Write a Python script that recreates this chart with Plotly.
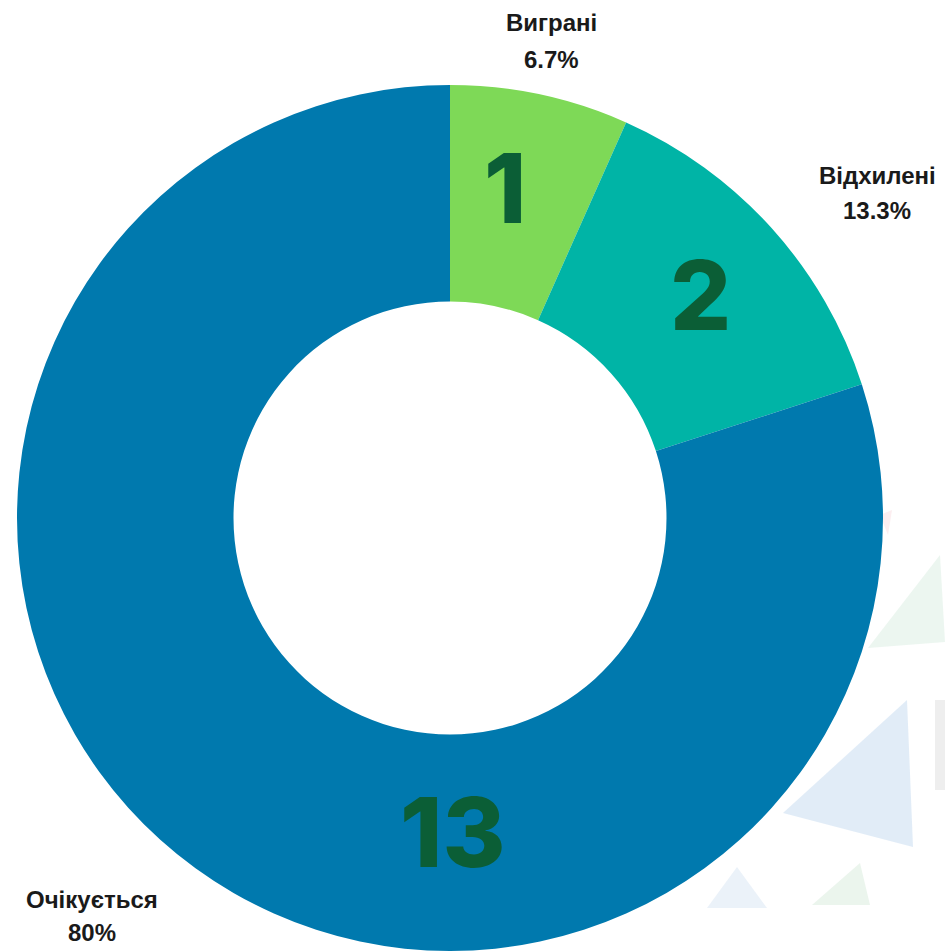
import plotly.graph_objects as go

labels = ["Виграні", "Відхилені", "Очікується"]
slice_values = [1, 2, 12]          # slice sizes (match the 6.7% / 13.3% / 80% shown)
shown_counts = ["1", "2", "13"]    # numbers printed inside the ring in the original
colors = ["#7ED957", "#00B4A6", "#0079AE"]
number_color = "#0B5E36"

W, H = 945, 951
total = sum(slice_values)
pcts = [v / total * 100 for v in slice_values]


def fmt(p):
    s = f"{p:.1f}"
    return s[:-2] if s.endswith(".0") else s


fig = go.Figure(go.Pie(
    labels=labels,
    values=slice_values,
    hole=0.5,
    sort=False,
    direction="clockwise",
    rotation=0,
    marker=dict(colors=colors, line=dict(width=0)),
    textinfo="none",
    showlegend=False,
    hoverinfo="label+value+percent",
    domain=dict(x=[15 / W, 885 / W], y=[0, 1 - 85 / H]),
))


def px(x, y):
    return x / W, 1 - y / H


annotations = []
# numbers inside the ring
num_pos = [(505, 188), (700, 295), (452, 832)]
for txt, (x, y) in zip(shown_counts, num_pos):
    ax, ay = px(x, y)
    annotations.append(dict(
        x=ax, y=ay, xref="paper", yref="paper", text=txt, showarrow=False,
        font=dict(family="Inter", size=96, color=number_color, weight=800),
        xanchor="center", yanchor="middle",
    ))

# outside labels (name + percent)
label_pos = [(551, 23, 59), (877, 176, 211), (92, 899, 932)]
for lab, p, (x, y1, y2) in zip(labels, pcts, label_pos):
    for txt, y in ((lab, y1), (fmt(p) + "%", y2)):
        ax, ay = px(x, y)
        annotations.append(dict(
            x=ax, y=ay, xref="paper", yref="paper",
            text=f"<b>{txt}</b>", showarrow=False,
            font=dict(family="Liberation Sans", size=24, color="#1a1a1a"),
            xanchor="center", yanchor="middle",
        ))

# faint decorative background triangles (watermark on the right)
decor = [
    ([(940, 555), (868, 648), (945, 642)], "rgba(150,205,170,0.18)"),
    ([(907, 700), (783, 813), (913, 847)], "rgba(200,220,240,0.55)"),
    ([(737, 867), (707, 908), (767, 908)], "rgba(205,222,240,0.4)"),
    ([(860, 863), (812, 905), (870, 905)], "rgba(205,230,210,0.4)"),
    ([(935, 700), (945, 700), (945, 790), (935, 790)], "rgba(200,200,200,0.3)"),
    ([(880, 515), (892, 510), (888, 535)], "rgba(245,200,205,0.3)"),
]
shapes = []
for pts, col in decor:
    path = "M " + " L ".join(f"{x / W},{1 - y / H}" for x, y in pts) + " Z"
    shapes.append(dict(type="path", path=path, xref="paper", yref="paper",
                       fillcolor=col, line=dict(width=0), layer="below"))

fig.update_layout(
    width=W, height=H,
    margin=dict(l=0, r=0, t=0, b=0),
    paper_bgcolor="white",
    plot_bgcolor="white",
    annotations=annotations,
    shapes=shapes,
)

fig.write_html("out.html", config={"displayModeBar": False},
               post_script="document.body.style.margin='0';")
